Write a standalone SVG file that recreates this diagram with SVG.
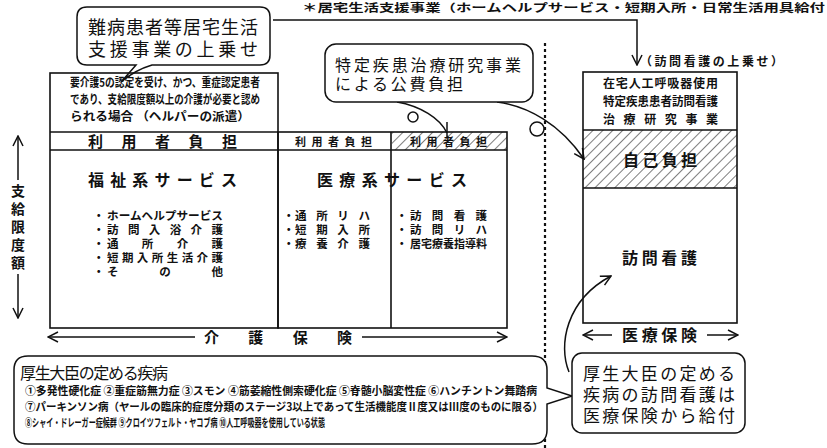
<svg xmlns="http://www.w3.org/2000/svg" width="827" height="448" viewBox="0 0 827 448">
<style>
.t{font-family:"Noto Sans CJK JP","Noto Sans CJK SC",sans-serif;fill:#111}
.b{font-weight:bold}
.ln{stroke:#111;stroke-width:1.5;fill:none}
.bx{stroke:#111;stroke-width:1.6;fill:none}
.co{stroke:#111;stroke-width:1.5;fill:#fff}
</style>
<defs>
<pattern id="hatch" patternUnits="userSpaceOnUse" width="7" height="7" patternTransform="rotate(45)"><line x1="0" y1="0" x2="0" y2="7" stroke="#111" stroke-width="1.1"/></pattern>
<marker id="ah" viewBox="0 0 12 12" refX="11" refY="6" markerWidth="12" markerHeight="12" markerUnits="userSpaceOnUse" orient="auto-start-reverse"><path d="M1,1 L11,6 L1,11" fill="none" stroke="#111" stroke-width="1.5"/></marker>
</defs>
<rect width="827" height="448" fill="#fff"/>

<text class="t b" x="302" y="12" font-size="11" textLength="523" lengthAdjust="spacingAndGlyphs">＊居宅生活支援事業（ホームヘルプサービス・短期入所・日常生活用具給付</text>

<g id="connectors">
<path class="ln" d="M273,20 L637,20 L637,65" marker-end="url(#ah)"/>
<line x1="545" y1="43" x2="545" y2="448" stroke="#111" stroke-width="2.2" stroke-dasharray="3,3"/>
<path class="ln" d="M397,102 C420,106 440,118 447,133"/>
<line class="ln" x1="447" y1="122" x2="447" y2="137"/>
<circle class="ln" cx="413" cy="117" r="5"/>
<path class="ln" d="M497,102 C528,106 560,124 584,159" marker-end="url(#ah)"/>
<circle class="ln" cx="537" cy="129" r="7"/>
<path class="ln" d="M569,372 C558,345 566,300 611,276" marker-end="url(#ah)"/>
<line class="ln" x1="18" y1="180" x2="18" y2="136" marker-end="url(#ah)"/>
<line class="ln" x1="18" y1="274" x2="18" y2="318" marker-end="url(#ah)"/>
<line class="ln" x1="195" y1="337" x2="48" y2="337" marker-end="url(#ah)"/>
<line class="ln" x1="362" y1="337" x2="507" y2="337" marker-end="url(#ah)"/>
<line class="ln" x1="612" y1="335" x2="583" y2="335" marker-end="url(#ah)"/>
<line class="ln" x1="707" y1="335" x2="738" y2="335" marker-end="url(#ah)"/>
</g>

<g id="limit-label">
<text class="t b" font-size="14" text-anchor="middle"><tspan x="18" y="196">支</tspan><tspan x="18" y="214">給</tspan><tspan x="18" y="232">限</tspan><tspan x="18" y="250">度</tspan><tspan x="18" y="268">額</tspan></text>
</g>

<g id="kaigo-label">
<text class="t b" x="204" y="343" font-size="15" textLength="148" lengthAdjust="spacing">介護保険</text>
</g>

<g id="iryo-label">
<text class="t b" x="622" y="341" font-size="16" textLength="75" lengthAdjust="spacing">医療保険</text>
</g>

<g id="callout-nanbyo">
<path class="co" d="M87,7 H260 Q270,7 270,17 V55 Q270,65 260,65 H152 Q135,70 121,82 Q130,72 136,65 H87 Q77,65 77,55 V17 Q77,7 87,7 Z"/>
<text class="t" x="88" y="34" font-size="18" textLength="170" lengthAdjust="spacing">難病患者等居宅生活</text>
<text class="t" x="88" y="56" font-size="18" textLength="170" lengthAdjust="spacing">支援事業の上乗せ</text>
</g>

<g id="callout-tokutei">
<rect class="co" x="325" y="44" width="208" height="58" rx="11"/>
<text class="t" x="335" y="71" font-size="16" textLength="186" lengthAdjust="spacing">特定疾患治療研究事業</text>
<text class="t" x="335" y="90" font-size="16" textLength="128" lengthAdjust="spacing">による公費負担</text>
</g>

<g id="kaigo-box">
<rect x="392" y="132" width="115" height="18" fill="url(#hatch)"/>
<rect class="bx" x="50" y="73" width="228" height="255"/>
<rect class="bx" x="278" y="132" width="229" height="196"/>
<line class="bx" x1="50" y1="132" x2="278" y2="132"/>
<line class="bx" x1="50" y1="150" x2="507" y2="150"/>
<line class="bx" x1="391" y1="132" x2="391" y2="328"/>
<text class="t b" x="70" y="87" font-size="12" textLength="190" lengthAdjust="spacingAndGlyphs">要介護5の認定を受け、かつ、重症認定患者</text>
<text class="t b" x="70" y="104" font-size="12" textLength="190" lengthAdjust="spacingAndGlyphs">であり、支給限度額以上の介護が必要と認め</text>
<text class="t b" x="70" y="121" font-size="12" textLength="180" lengthAdjust="spacingAndGlyphs">られる場合 （ヘルパーの派遣）</text>
<text class="t b" x="88" y="147" font-size="15" textLength="149" lengthAdjust="spacing">利用者負担</text>
<text class="t b" x="295" y="146" font-size="11" textLength="77" lengthAdjust="spacing">利用者負担</text>
<text class="t b" x="410" y="146" font-size="11" textLength="77" lengthAdjust="spacing">利用者負担</text>
<text class="t b" x="88" y="186" font-size="16" textLength="149" lengthAdjust="spacing">福祉系サービス</text>
<text class="t b" x="317" y="186" font-size="16" textLength="150" lengthAdjust="spacing">医療系サービス</text>
<g class="t b" font-size="11.5">
<text x="93" y="220">・</text><text x="107" y="220" textLength="116" lengthAdjust="spacingAndGlyphs">ホームヘルプサービス</text>
<text x="93" y="234">・</text><text x="107" y="234" textLength="116" lengthAdjust="spacing">訪問入浴介護</text>
<text x="93" y="248">・</text><text x="107" y="248" textLength="116" lengthAdjust="spacing">通所介護</text>
<text x="93" y="262">・</text><text x="107" y="262" textLength="116" lengthAdjust="spacing">短期入所生活介護</text>
<text x="93" y="276">・</text><text x="107" y="276" textLength="116" lengthAdjust="spacing">その他</text>
<text x="283" y="220">・</text><text x="295" y="220" textLength="75" lengthAdjust="spacing">通所リハ</text>
<text x="283" y="234">・</text><text x="295" y="234" textLength="75" lengthAdjust="spacing">短期入所</text>
<text x="283" y="248">・</text><text x="295" y="248" textLength="75" lengthAdjust="spacing">療養介護</text>
<text x="396" y="220">・</text><text x="410" y="220" textLength="77" lengthAdjust="spacing">訪問看護</text>
<text x="396" y="234">・</text><text x="410" y="234" textLength="77" lengthAdjust="spacing">訪問リハ</text>
<text x="396" y="248">・</text><text x="410" y="248" textLength="77" lengthAdjust="spacingAndGlyphs">居宅療養指導料</text>
</g>
</g>

<g id="iryo-box">
<text class="t b" x="640" y="66" font-size="12" textLength="143" lengthAdjust="spacing">（訪問看護の上乗せ）</text>
<rect x="583" y="130" width="154" height="58" fill="url(#hatch)"/>
<rect class="bx" x="583" y="72" width="154" height="251"/>
<line class="bx" x1="583" y1="130" x2="737" y2="130"/>
<line class="bx" x1="583" y1="188" x2="737" y2="188"/>
<text class="t b" x="603" y="88" font-size="12" textLength="115" lengthAdjust="spacing">在宅人工呼吸器使用</text>
<text class="t b" x="603" y="106" font-size="12" textLength="115" lengthAdjust="spacingAndGlyphs">特定疾患患者訪問看護</text>
<text class="t b" x="603" y="124" font-size="12" textLength="115" lengthAdjust="spacing">治療研究事業</text>
<text class="t b" x="623" y="166" font-size="16" textLength="74" lengthAdjust="spacing">自己負担</text>
<text class="t b" x="622" y="264" font-size="16" textLength="75" lengthAdjust="spacing">訪問看護</text>
</g>

<g id="callout-diseases">
<path class="co" d="M28,356 H532 Q547,356 547,370 V388 L572,396 L547,404 V430 Q547,444 532,444 H28 Q14,444 14,430 V370 Q14,356 28,356 Z"/>
<text class="t" x="20" y="379" font-size="16" textLength="148" lengthAdjust="spacing">厚生大臣の定める疾病</text>
<g class="t b" font-size="11">
<text x="25" y="395" textLength="512" lengthAdjust="spacingAndGlyphs">①多発性硬化症 ②重症筋無力症 ③スモン ④筋萎縮性側索硬化症 ⑤脊髄小脳変性症 ⑥ハンチントン舞踏病</text>
<text x="25" y="411" textLength="518" lengthAdjust="spacingAndGlyphs">⑦パーキンソン病（ヤールの臨床的症度分類のステージ3以上であって生活機能度Ⅱ度又はⅢ度のものに限る）</text>
<text x="25" y="427" textLength="300" lengthAdjust="spacingAndGlyphs">⑧シャイ・ドレーガー症候群 ⑨クロイツフェルト・ヤコブ病 ⑩人工呼吸器を使用している状態</text>
</g>
</g>

<g id="callout-houmon">
<rect class="co" x="572" y="353" width="173" height="80" rx="10"/>
<text class="t" x="583" y="380" font-size="17" textLength="152" lengthAdjust="spacing">厚生大臣の定める</text>
<text class="t" x="583" y="401" font-size="17" textLength="152" lengthAdjust="spacing">疾病の訪問看護は</text>
<text class="t" x="583" y="422" font-size="17" textLength="152" lengthAdjust="spacing">医療保険から給付</text>
</g>
</svg>
